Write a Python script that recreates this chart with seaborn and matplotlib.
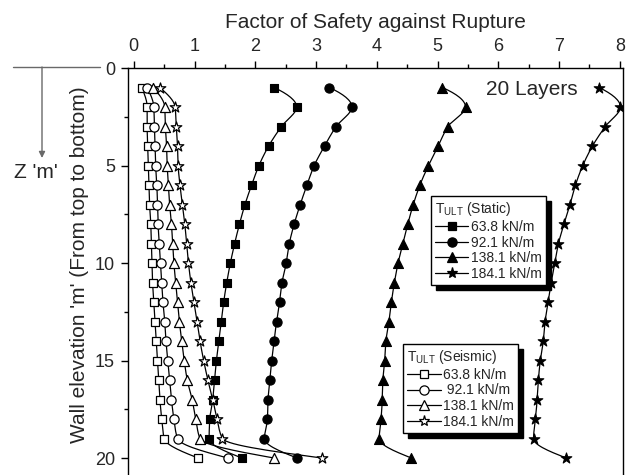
import numpy as np
import matplotlib
matplotlib.use("Agg")
import matplotlib.pyplot as plt
import seaborn as sns
from matplotlib.lines import Line2D
from matplotlib.patches import Rectangle
from matplotlib.ticker import MultipleLocator

# -----------------------------
# Data
# -----------------------------
depth = [1, 2, 3, 4, 5, 6, 7, 8, 9, 10, 11, 12, 13, 14, 15, 16, 17, 18, 19, 20]

static_638 = [2.31, 2.68, 2.43, 2.22, 2.06, 1.94, 1.83, 1.74, 1.66, 1.59,
              1.53, 1.48, 1.44, 1.40, 1.36, 1.33, 1.30, 1.25, 1.24, 1.78]
static_921 = [3.22, 3.59, 3.33, 3.14, 2.97, 2.85, 2.74, 2.64, 2.56, 2.51,
              2.44, 2.40, 2.35, 2.31, 2.27, 2.24, 2.21, 2.20, 2.15, 2.69]
static_1381 = [5.08, 5.46, 5.17, 5.01, 4.85, 4.71, 4.60, 4.51, 4.43, 4.35,
               4.29, 4.24, 4.20, 4.15, 4.13, 4.10, 4.09, 4.07, 4.04, 4.57]
static_1841 = [7.66, 8.01, 7.76, 7.55, 7.39, 7.27, 7.18, 7.08, 6.99, 6.93,
               6.87, 6.82, 6.77, 6.74, 6.69, 6.66, 6.64, 6.61, 6.58, 7.12]

seismic_638 = [0.13, 0.22, 0.22, 0.23, 0.24, 0.25, 0.26, 0.28, 0.29, 0.30,
               0.31, 0.33, 0.35, 0.37, 0.39, 0.41, 0.43, 0.46, 0.50, 1.06]
seismic_921 = [0.22, 0.33, 0.34, 0.35, 0.36, 0.38, 0.39, 0.40, 0.42, 0.44,
               0.46, 0.48, 0.51, 0.53, 0.56, 0.59, 0.62, 0.66, 0.72, 1.55]
seismic_1381 = [0.32, 0.51, 0.52, 0.54, 0.55, 0.57, 0.59, 0.62, 0.64, 0.66,
                0.69, 0.72, 0.75, 0.79, 0.83, 0.88, 0.96, 1.02, 1.09, 2.31]
seismic_1841 = [0.43, 0.68, 0.70, 0.72, 0.73, 0.76, 0.80, 0.84, 0.87, 0.90,
                0.94, 0.99, 1.04, 1.09, 1.15, 1.22, 1.30, 1.37, 1.46, 3.10]

labels_static = ["63.8 kN/m", "92.1 kN/m", "138.1 kN/m", "184.1 kN/m"]
labels_seismic = ["63.8 kN/m", " 92.1 kN/m", "138.1 kN/m", "184.1 kN/m"]
markers = ["s", "o", "^", "*"]
marker_area = [36, 44, 52, 64]


def smooth_line(z, x, num=16):
    # monotone cubic (pchip) connection between the points, like a spline connect
    z = np.asarray(z, float)
    x = np.asarray(x, float)
    h = np.diff(z)
    d = np.diff(x) / h
    n = len(x)
    m = np.zeros(n)
    for k in range(1, n - 1):
        if d[k - 1] * d[k] > 0:
            w1 = 2 * h[k] + h[k - 1]
            w2 = h[k] + 2 * h[k - 1]
            m[k] = (w1 + w2) / (w1 / d[k - 1] + w2 / d[k])

    def end_slope(h0, h1, d0, d1):
        s = ((2 * h0 + h1) * d0 - h0 * d1) / (h0 + h1)
        if np.sign(s) != np.sign(d0):
            s = 0.0
        elif np.sign(d0) != np.sign(d1) and abs(s) > abs(3 * d0):
            s = 3 * d0
        return s

    m[0] = end_slope(h[0], h[1], d[0], d[1])
    m[-1] = end_slope(h[-1], h[-2], d[-1], d[-2])
    zz, xx = [], []
    for k in range(n - 1):
        t = np.linspace(0, 1, num, endpoint=(k == n - 2))
        h00 = 2 * t**3 - 3 * t**2 + 1
        h10 = t**3 - 2 * t**2 + t
        h01 = -2 * t**3 + 3 * t**2
        h11 = t**3 - t**2
        xx.append(h00 * x[k] + h10 * h[k] * m[k] + h01 * x[k + 1] + h11 * h[k] * m[k + 1])
        zz.append(z[k] + t * h[k])
    return np.concatenate(zz), np.concatenate(xx)


# -----------------------------
# Figure
# -----------------------------
sns.set_style("ticks")
plt.rcParams["font.family"] = ["Liberation Sans", "DejaVu Sans"]
plt.rcParams["mathtext.default"] = "regular"

fig = plt.figure(figsize=(6.35, 4.75), dpi=100)
ax = fig.add_axes([0.2011, 0.0, 0.7798, 0.8568])

static_sets = [static_638, static_921, static_1381, static_1841]
seismic_sets = [seismic_638, seismic_921, seismic_1381, seismic_1841]

for vals, mk, s in zip(static_sets, markers, marker_area):
    zz, xx = smooth_line(depth, vals)
    sns.lineplot(x=xx, y=zz, orient="y", sort=False, estimator=None,
                 color="black", lw=0.9, ax=ax, zorder=2)
    sns.scatterplot(x=vals, y=depth, marker=mk, s=s, color="black",
                    edgecolor="black", linewidth=0.8, ax=ax, zorder=3)

for vals, mk, s in zip(seismic_sets, markers, marker_area):
    zz, xx = smooth_line(depth, vals)
    sns.lineplot(x=xx, y=zz, orient="y", sort=False, estimator=None,
                 color="black", lw=0.9, ax=ax, zorder=2)
    sns.scatterplot(x=vals, y=depth, marker=mk, s=s, color="white",
                    edgecolor="black", linewidth=0.9, ax=ax, zorder=3.5)

# axes styling
ax.set_xlim(-0.1, 8.05)
ax.set_ylim(20.87, 0)
ax.xaxis.tick_top()
ax.xaxis.set_label_position("top")
ax.set_xticks(range(0, 9))
ax.set_yticks([0, 5, 10, 15, 20])
ax.xaxis.set_minor_locator(MultipleLocator(0.5))
ax.yaxis.set_minor_locator(MultipleLocator(2.5))
ax.tick_params(which="major", length=5.2, width=1, direction="out",
               labelsize=13, pad=4, color="black")
ax.tick_params(which="minor", length=2.6, width=1, direction="out", color="black")
ax.spines["bottom"].set_visible(False)
for side in ["top", "left", "right"]:
    ax.spines[side].set_linewidth(1.0)
    ax.spines[side].set_color("black")

ax.set_xlabel("Factor of Safety against Rupture", fontsize=15)
ax.xaxis.set_label_coords(0.5, 1.113)
ax.xaxis.label.set_va("center")
ax.set_ylabel("Wall elevation 'm' (From top to bottom)", fontsize=15)
ax.yaxis.set_label_coords(-0.097, 0.516)
ax.yaxis.label.set_va("center")

ax.text(6.55, 1.08, "20 Layers", fontsize=15, ha="center", va="center")

# depth sketch at the left
fig.add_artist(Line2D([13 / 635, 100 / 635], [1 - 67 / 475] * 2,
                      color="dimgray", lw=1.0))
ax.annotate("", xy=(42 / 635, 1 - 158 / 475), xytext=(42 / 635, 1 - 67 / 475),
            xycoords="figure fraction", textcoords="figure fraction",
            arrowprops=dict(arrowstyle="-|>", color="dimgray", lw=1.0,
                            mutation_scale=9, shrinkA=0, shrinkB=0))
fig.text(36 / 635, 1 - 172 / 475, "Z 'm'", fontsize=15, ha="center", va="center")

# -----------------------------
# Legends
# -----------------------------
def handles(face):
    return [Line2D([], [], color="black", lw=0.9, marker=mk,
                   ms=np.sqrt(s), mfc=face, mec="black", mew=0.9)
            for mk, s in zip(markers, marker_area)]


leg_kw = dict(loc="upper left", fontsize=10, title_fontsize=10, frameon=True,
              fancybox=False, framealpha=1, edgecolor="black", borderaxespad=0,
              handlelength=2.4, handletextpad=0.15, labelspacing=0.12,
              borderpad=0.3, alignment="left")

leg1 = ax.legend(handles("black"), labels_static, title="T$_{ULT}$ (Static)",
                 bbox_to_anchor=(0.6125, 0.6855), **leg_kw)
ax.add_artist(leg1)
leg2 = ax.legend(handles("white"), labels_seismic, title="T$_{ULT}$ (Seismic)",
                 bbox_to_anchor=(0.556, 0.3219), **leg_kw)
for leg in (leg1, leg2):
    leg.get_frame().set_linewidth(1.0)

# black drop shadow behind each legend box
fig.canvas.draw()
for leg in (leg1, leg2):
    bb = leg.get_frame().get_window_extent().transformed(fig.transFigure.inverted())
    shadow = Rectangle((bb.x0 + 5 / 635, bb.y0 - 5 / 475), bb.width, bb.height,
                       transform=fig.transFigure, facecolor="black",
                       edgecolor="black", zorder=4.9, clip_on=False)
    ax.add_patch(shadow)

plt.savefig("out.png", dpi=100)
